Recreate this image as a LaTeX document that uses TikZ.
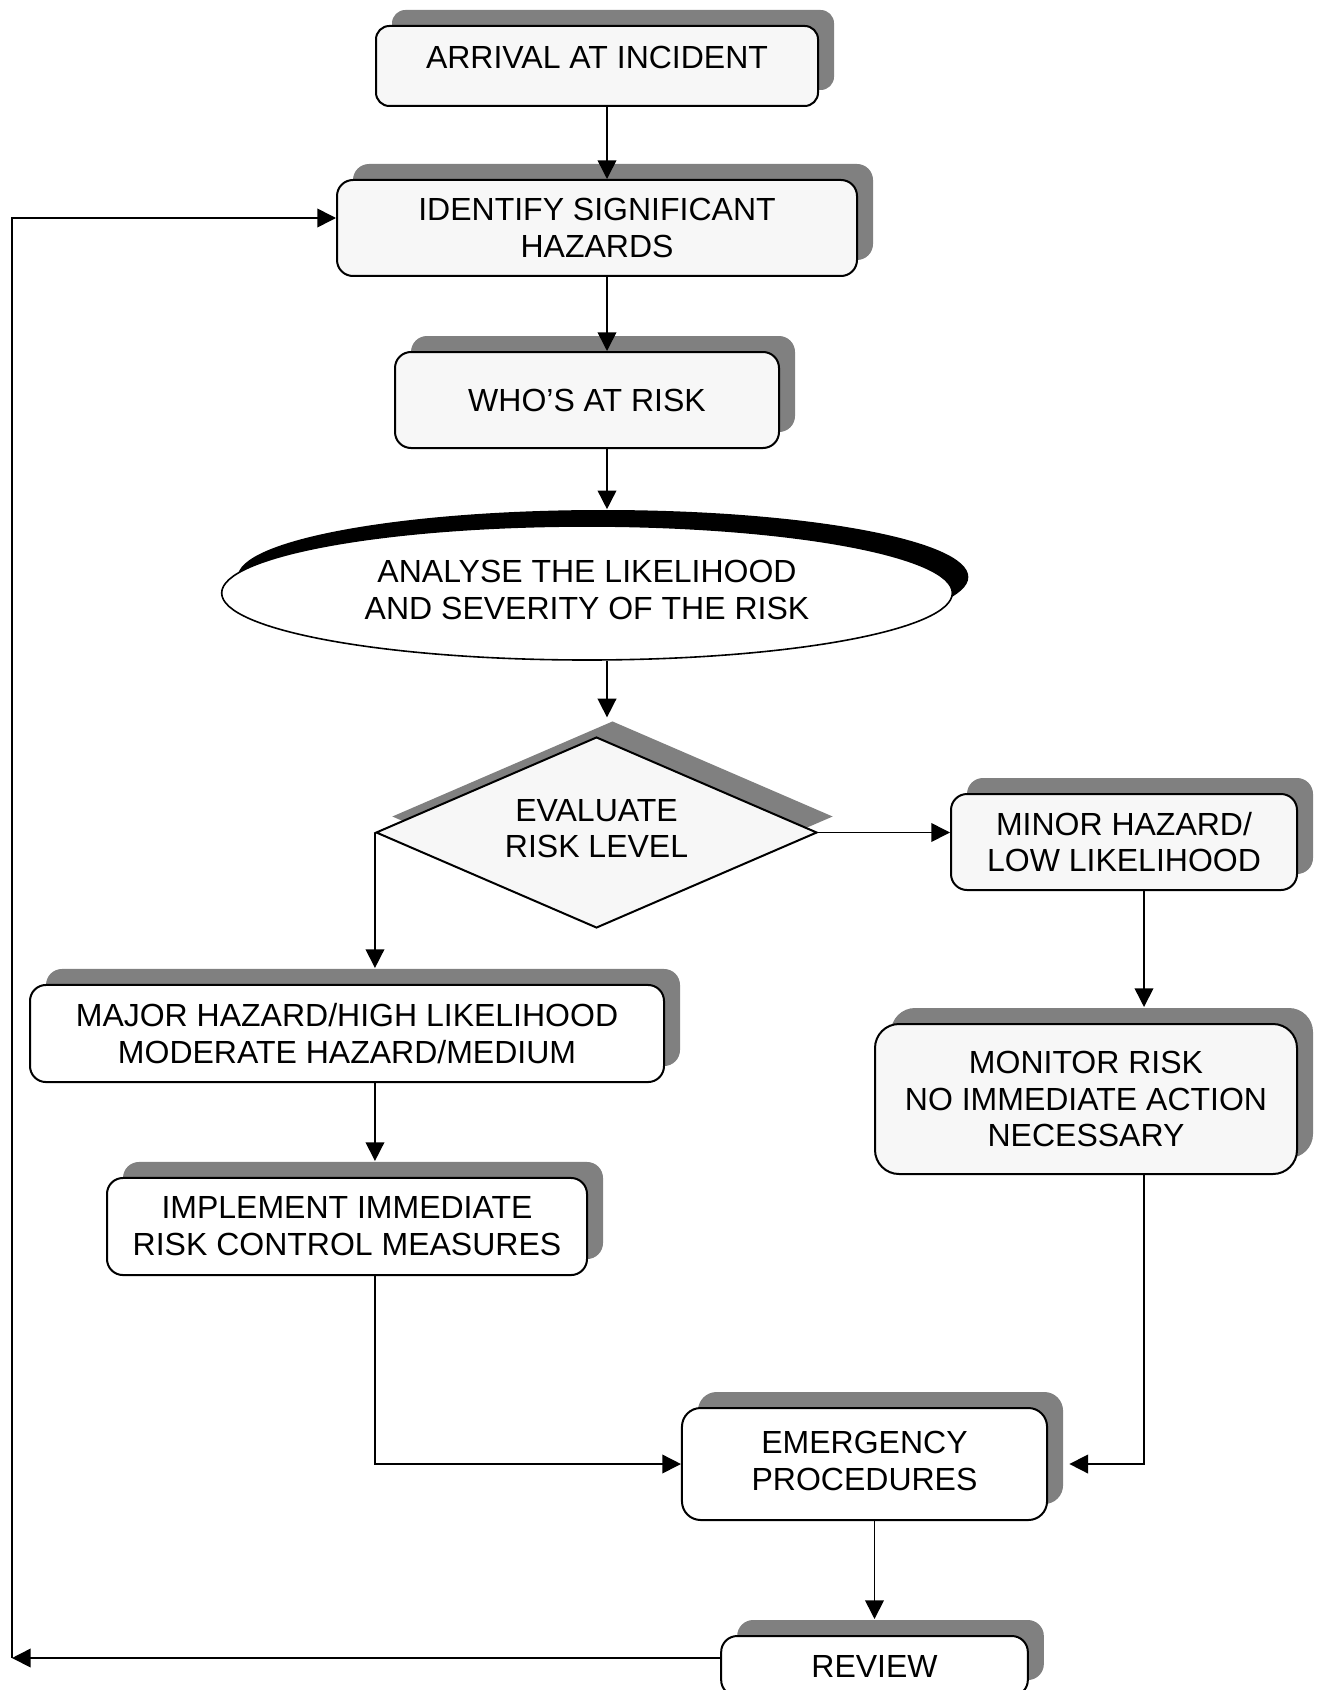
\documentclass[tikz,border=0pt]{standalone}
\usepackage{fontspec}
\setmainfont{Liberation Sans}
\usetikzlibrary{shapes.geometric,shadows,arrows.meta,calc}

\definecolor{paleface}{RGB}{247,247,247}
\definecolor{shadegray}{RGB}{128,128,128}
\newcommand{\chartfont}{\fontsize{12}{13.8}\selectfont}

\tikzset{
    box/.style={draw, line width=0.75pt, rounded corners=6pt, fill=paleface, align=center, font=\chartfont,
        drop shadow={shadow xshift=6pt, shadow yshift=6pt, opacity=1, fill=shadegray}},
    plainbox/.style={box, fill=white},
    flow/.style={line width=0.6pt, -{Triangle[length=7pt,width=7pt]}},
}

\begin{document}
\begin{tikzpicture}[x=0.375pt, y=-0.375pt]
            \useasboundingbox (0,0) rectangle (1319,1690);
            \clip (0,0) rectangle (1319,1690);
            \fill[white] (0,0) rectangle (1319,1690);

            % main column
            \node[box, rounded corners=5pt, minimum width=165.75pt, minimum height=30pt, text depth=6.8pt] (arrival) at (597,66) {ARRIVAL AT INCIDENT};
            \node[box, minimum width=195pt, minimum height=36pt] (identify) at (597,228) {IDENTIFY SIGNIFICANT\\HAZARDS};
            \node[box, minimum width=144pt, minimum height=36pt] (who) at (587,400) {WHO'S AT RISK};
            \node[ellipse, draw, line width=0.6pt, fill=white, align=center, font=\chartfont, minimum width=274pt, minimum height=50.25pt, text depth=2.4pt,
                drop shadow={shadow xshift=6pt, shadow yshift=6pt, opacity=1, fill=black}] (analyse) at (587,593) {ANALYSE THE LIKELIHOOD\\AND SEVERITY OF THE RISK};
            \node[diamond, draw, line width=0.75pt, fill=paleface, aspect=2.3, inner sep=0pt, align=center, font=\chartfont,
                minimum width=165.4pt, minimum height=71.6pt, text depth=3pt,
                drop shadow={shadow xshift=6pt, shadow yshift=6pt, opacity=1, fill=shadegray}] (evaluate) at (596.5,832.5) {EVALUATE\\RISK LEVEL};

            % branches
            \node[box, minimum width=129.75pt, minimum height=36pt] (minor) at (1124,842) {MINOR HAZARD/\\LOW LIKELIHOOD};
            \node[box, rounded corners=9pt, minimum width=158.25pt, minimum height=56.25pt] (monitor) at (1086,1099) {MONITOR RISK\\NO IMMEDIATE ACTION\\NECESSARY};
            \node[plainbox, minimum width=237.75pt, minimum height=36.4pt] (major) at (347,1033.5) {MAJOR HAZARD/HIGH LIKELIHOOD\\MODERATE HAZARD/MEDIUM};
            \node[plainbox, minimum width=180pt, minimum height=36.4pt] (implement) at (347,1226.5) {IMPLEMENT IMMEDIATE\\RISK CONTROL MEASURES};
            \node[plainbox, rounded corners=7pt, minimum width=136.9pt, minimum height=42pt, text depth=2.4pt] (emergency) at (864.5,1464) {EMERGENCY\\PROCEDURES};
            \node[plainbox, minimum width=115pt, minimum height=22.5pt] (review) at (874.5,1666) {REVIEW};

            \coordinate (spine) at (607,0);
            \coordinate (rspine) at (1144,0);
            \coordinate (back) at (12,1658);

            % connectors
            \draw[flow] (arrival.south -| spine) -- (identify.north -| spine);
            \draw[flow] (identify.south -| spine) -- (who.north -| spine);
            \draw[flow, shorten >=6pt] (who.south -| spine) -- (analyse.north -| spine);
            \draw[flow, shorten >=7pt] (analyse.south -| spine) -- (evaluate.north -| spine);
            \draw[flow] (evaluate.east) -- (evaluate.east -| minor.west);
            \draw[flow, shorten >=6pt] (evaluate.west) -- (evaluate.west |- major.north);
            \draw[flow, shorten >=6pt] (major.south -| evaluate.west) -- (implement.north -| evaluate.west);
            \draw[flow] (implement.south -| evaluate.west) |- (emergency.west);
            \draw[flow, shorten >=6pt] (minor.south -| rspine) -- (monitor.north -| rspine);
            \draw[flow, shorten >=8pt] (monitor.south -| rspine) |- (emergency.east);
            \draw[flow, shorten >=6pt] (emergency.south -| review.north) -- (review.north);
            \draw[flow] ($(review.west)+(0,-8)$) -- (back);
            \draw[flow] (back) |- ($(identify.west)+(0,-10)$);
        \end{tikzpicture}
\end{document}
